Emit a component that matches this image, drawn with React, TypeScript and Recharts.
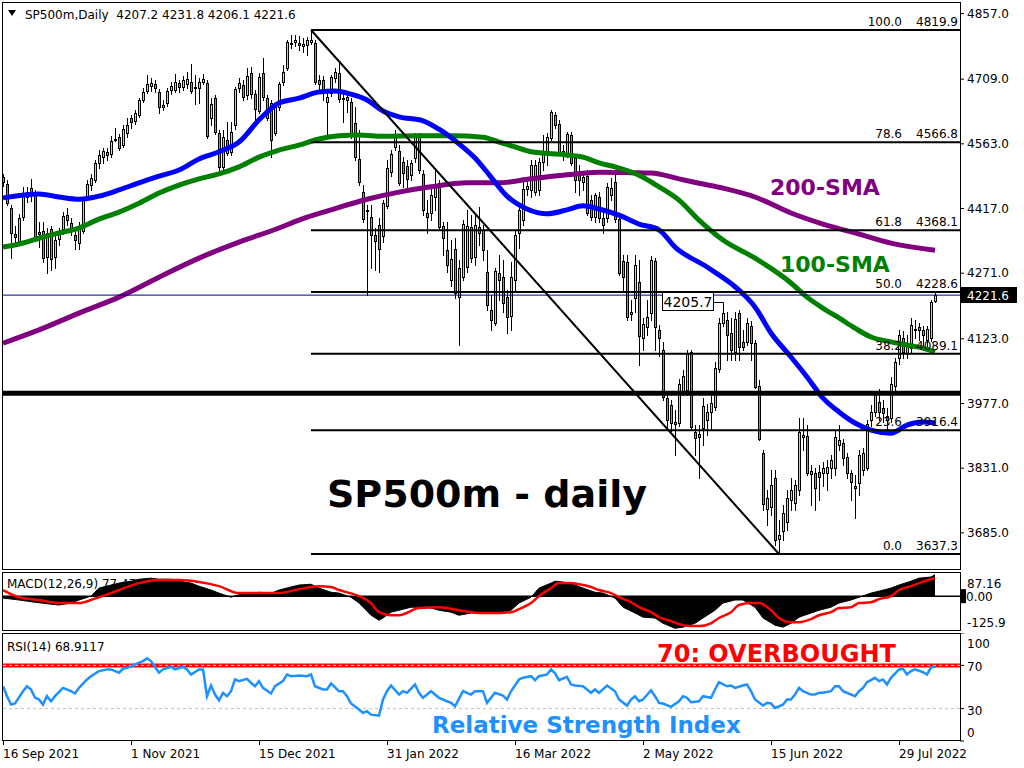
import React from 'react';
import { ComposedChart, Bar, Line, Area, XAxis, YAxis, ReferenceLine, ReferenceDot } from 'recharts';

const FONT = '"DejaVu Sans", Verdana, Tahoma, sans-serif';
const BULL = '#cddc66';
const BEAR = '#e6783f';

// ---------------- DATA ----------------
const SYMBOL = 'SP500m,Daily';
const OPEN = [
  4488,4472,4418,4359,4344,4398,4443,4463,4452,4364,
  4366,4308,4371,4308,4348,4371,4402,4384,4357,4339,
  4366,4443,4470,4481,4520,4533,4545,4540,4572,4578,
  4560,4587,4621,4615,4628,4662,4682,4694,4698,4680,
  4646,4655,4685,4685,4700,4691,4698,4703,4691,4689,
  4703,4700,4621,4666,4587,4511,4572,4545,4605,4689,
  4696,4673,4723,4675,4637,4723,4666,4655,4587,4646,
  4703,4734,4790,4793,4790,4784,4786,4793,4790,4707,
  4707,4657,4678,4712,4723,4664,4669,4657,4610,4529,
  4454,4411,4398,4357,4380,4355,4423,4499,4556,4547,
  4522,4513,4493,4531,4583,4495,4407,4407,4443,4475,
  4378,4323,4256,4326,4217,4262,4285,4375,4308,4375,
  4368,4274,4188,4159,4271,4262,4217,4174,4256,4362,
  4391,4461,4459,4454,4459,4522,4542,4576,4628,4608,
  4547,4542,4583,4531,4493,4477,4490,4436,4398,4443,
  4396,4396,4448,4477,4393,4299,4296,4183,4215,4251,
  4125,4150,4181,4299,4143,4098,3989,3973,3935,3933,
  4005,4007,4093,3913,3908,3922,3940,3958,3969,4055,
  4159,4165,4136,4093,4181,4116,4116,4152,4113,4016,
  3865,3739,3743,3809,3671,3689,3710,3759,3752,3782,
  3901,3904,3825,3820,3822,3820,3820,3831,3831,3883,
  3888,3856,3820,3791,3797,3827,3831,3940,3958,3980,
  3967,3949,3944,4016,4079,4125,4091,4102,4143,4150,
  4143,4120,4125,4207.2,
];
const HIGH = [
  4495,4481,4425,4378,4405,4466,4466,4484,4459,4387,
  4387,4373,4378,4364,4373,4409,4418,4396,4373,4387,
  4443,4481,4495,4526,4549,4554,4554,4581,4599,4585,
  4606,4621,4628,4639,4666,4689,4718,4712,4707,4687,
  4662,4689,4703,4721,4707,4716,4725,4743,4718,4712,
  4721,4707,4666,4673,4594,4594,4612,4612,4691,4712,
  4707,4734,4736,4684,4723,4757,4673,4662,4655,4703,
  4741,4797,4809,4809,4806,4802,4804,4819.9,4797,4718,
  4716,4680,4718,4734,4748,4684,4680,4666,4646,4594,
  4470,4425,4425,4373,4396,4436,4527,4549,4594,4560,
  4533,4527,4527,4587,4587,4504,4436,4470,4508,4481,
  4387,4387,4346,4350,4301,4391,4414,4402,4407,4420,
  4380,4323,4222,4283,4312,4301,4233,4296,4368,4425,
  4477,4486,4527,4527,4531,4583,4587,4639,4635,4617,
  4560,4590,4590,4538,4515,4499,4504,4448,4452,4454,
  4409,4475,4486,4493,4402,4312,4312,4211,4312,4301,
  4170,4211,4310,4305,4154,4116,4000,3985,3962,4032,
  4052,4098,4098,3928,3928,3989,3976,4003,4071,4170,
  4190,4183,4170,4183,4188,4143,4170,4163,4120,4030,
  3872,3782,3827,3827,3714,3748,3782,3809,3804,3944,
  3944,3928,3838,3831,3838,3845,3850,3860,3915,3928,
  3897,3865,3827,3816,3872,3876,3940,3973,4005,4010,
  3985,3967,4037,4080,4143,4140,4131,4170,4165,4159,
  4152,4152,4210,4231.8,
];
const LOW = [
  4468,4425,4305,4332,4339,4391,4432,4434,4346,4330,
  4296,4271,4278,4283,4335,4359,4380,4357,4326,4326,
  4362,4436,4459,4477,4508,4520,4527,4533,4569,4549,
  4556,4578,4599,4608,4624,4657,4678,4682,4680,4633,
  4639,4648,4675,4680,4680,4685,4689,4678,4653,4655,
  4698,4576,4605,4585,4504,4504,4538,4538,4596,4680,
  4662,4664,4666,4610,4633,4662,4617,4533,4583,4639,
  4696,4730,4779,4784,4775,4770,4763,4788,4698,4684,
  4662,4578,4671,4703,4657,4612,4635,4576,4527,4470,
  4387,4222,4283,4278,4274,4342,4418,4490,4549,4470,
  4466,4459,4481,4522,4497,4402,4362,4391,4414,4368,
  4312,4274,4243,4215,4109,4256,4274,4296,4290,4335,
  4301,4188,4143,4154,4211,4184,4136,4143,4233,4328,
  4380,4448,4443,4448,4448,4504,4515,4572,4599,4538,
  4527,4533,4515,4454,4448,4459,4402,4391,4387,4387,
  4362,4387,4436,4387,4267,4233,4165,4165,4184,4064,
  4098,4132,4165,4098,4085,3985,3917,3915,3861,3926,
  3996,3996,3917,3861,3809,3883,3906,3917,3962,4048,
  4152,4075,4075,4075,4075,4098,4109,4075,4012,3894,
  3737,3703,3725,3658,3637.3,3669,3692,3737,3737,3770,
  3872,3816,3748,3737,3759,3790,3782,3809,3816,3872,
  3838,3809,3759,3718,3770,3816,3827,3926,3949,3940,
  3935,3917,3935,4003,4066,4080,4080,4093,4125,4120,
  4102,4098,4118,4206.1,
];
const CLOSE = [
  4477,4429,4362,4353,4396,4448,4454,4452,4353,4359,
  4305,4362,4303,4346,4364,4400,4391,4366,4346,4375,
  4436,4472,4486,4520,4538,4547,4538,4569,4574,4554,
  4596,4606,4612,4633,4662,4680,4698,4700,4689,4646,
  4651,4682,4694,4703,4691,4707,4709,4682,4689,4703,
  4709,4581,4653,4590,4511,4578,4542,4590,4687,4700,
  4669,4716,4675,4642,4714,4669,4621,4572,4651,4698,
  4725,4793,4788,4797,4786,4788,4797,4797,4703,4698,
  4685,4669,4714,4725,4664,4666,4662,4583,4533,4477,
  4393,4414,4357,4344,4326,4429,4508,4540,4583,4475,
  4497,4484,4520,4583,4504,4414,4398,4448,4472,4375,
  4350,4290,4303,4226,4283,4382,4377,4305,4380,4362,
  4323,4199,4165,4276,4256,4204,4172,4262,4357,4414,
  4461,4468,4515,4515,4522,4540,4578,4635,4606,4545,
  4543,4585,4520,4481,4481,4488,4407,4398,4448,4396,
  4380,4466,4463,4393,4271,4262,4172,4179,4290,4129,
  4156,4172,4301,4150,4125,3992,3940,3933,3931,4021,
  4039,4089,3924,3899,3901,3971,3958,3978,4057,4159,
  4181,4131,4098,4168,4104,4104,4159,4113,4014,3897,
  3750,3764,3793,3669,3680,3730,3764,3782,3793,3913,
  3906,3820,3818,3786,3811,3831,3834,3849,3901,3894,
  3854,3820,3800,3786,3860,3865,3931,3958,3996,3958,
  3955,3940,4021,4070,4131,4093,4109,4154,4145,4143,
  4131,4145,4206,4221.6,
];

// Moving averages read at key bars: [bar, value]
const SMA50 = [
  [0,4441],[9,4450],[14,4443],[19,4438],[24,4445],[29,4459],[34,4475],[39,4490],[44,4504],[49,4529],
  [54,4545],[59,4567],[64,4617],[69,4655],[74,4666],[79,4680],[83,4682],[87,4675],[91,4662],[95,4637],
  [99,4624],[105,4615],[109,4596],[114,4563],[118,4531],[122,4488],[126,4445],[131,4416],[136,4405],
  [141,4414],[145,4423],[149,4416],[154,4402],[159,4382],[164,4369],[168,4330],[176,4285],[184,4233],
  [188,4195],[192,4136],[197,4082],[201,4037],[205,3989],[209,3958],[213,3933],[217,3917],[222,3910],
  [226,3928],[230,3935],[233,3933],
];
const SMA100 = [
  [0,4330],[4,4337],[9,4350],[14,4362],[19,4373],[24,4393],[29,4409],[34,4429],[39,4452],[44,4470],
  [49,4484],[54,4495],[59,4511],[64,4533],[69,4549],[74,4560],[79,4574],[84,4581],[89,4583],[95,4580],
  [103,4581],[112,4581],[120,4578],[124,4567],[128,4556],[132,4545],[141,4538],[145,4533],[149,4520],
  [153,4511],[159,4492],[164,4466],[169,4436],[174,4391],[180,4346],[188,4305],[197,4249],[201,4217],
  [205,4192],[209,4170],[213,4147],[217,4127],[222,4116],[226,4109],[230,4102],[233,4093],
];
const SMA200 = [
  [0,4113],[9,4143],[19,4181],[29,4217],[39,4262],[49,4305],[59,4341],[69,4373],[74,4391],[82,4414],
  [91,4438],[99,4454],[107,4466],[116,4475],[124,4475],[132,4484],[141,4493],[149,4499],[157,4498],
  [162,4497],[169,4484],[174,4474],[180,4463],[188,4443],[197,4407],[205,4382],[213,4362],[222,4339],
  [233,4323],
];

// MACD(12,26,9): main (histogram) and signal, read at key bars
const MACD_MAIN = [
  [0,-7],[4,-14],[9,-24],[12,-29],[14,-32],[17,-25],[19,-14],[22,0],[24,29],[27,40],[29,47],[32,54],
  [34,61],[37,65],[39,61],[42,61],[44,54],[47,47],[49,36],[52,22],[54,11],[57,-4],[59,5],[62,10],
  [64,14],[67,10],[69,22],[72,33],[74,40],[77,43],[79,29],[82,14],[84,11],[87,-4],[89,-25],[92,-69],
  [94,-87],[95,-79],[97,-58],[99,-51],[102,-40],[104,-40],[107,-43],[109,-51],[112,-58],[114,-69],
  [117,-61],[119,-58],[122,-61],[124,-61],[127,-51],[129,-25],[132,-4],[134,29],[137,47],[138,54],
  [140,51],[143,40],[145,29],[148,14],[150,11],[153,-7],[155,-40],[158,-61],[160,-76],[163,-79],
  [165,-98],[168,-116],[170,-112],[173,-98],[175,-79],[178,-51],[180,-25],[183,-14],[185,-14],
  [188,-40],[190,-79],[193,-105],[195,-112],[197,-98],[199,-76],[202,-61],[204,-51],[207,-40],
  [209,-25],[212,-14],[214,-4],[217,11],[219,18],[222,29],[224,40],[227,54],[229,65],[232,69],[233,77.47],
];
const MACD_SIGNAL = [
  [0,22],[4,-4],[9,-14],[14,-25],[19,-25],[22,-14],[24,-4],[27,11],[29,22],[34,47],[39,58],[44,58],
  [49,51],[54,36],[59,11],[64,11],[69,11],[74,25],[79,36],[82,33],[84,22],[89,0],[92,-25],[94,-58],
  [97,-69],[99,-69],[104,-43],[109,-40],[114,-51],[119,-61],[124,-61],[127,-58],[129,-47],[132,-25],
  [134,0],[137,29],[139,47],[142,47],[144,43],[147,33],[149,22],[152,11],[154,-4],[157,-22],[159,-40],
  [162,-58],[164,-76],[167,-90],[169,-101],[172,-108],[174,-108],[177,-98],[179,-79],[182,-58],
  [184,-32],[187,-25],[189,-25],[192,-51],[194,-79],[197,-94],[199,-94],[202,-83],[204,-69],[207,-58],
  [209,-43],[212,-40],[214,-25],[217,-22],[219,-11],[222,0],[224,22],[227,36],[229,47],[232,61],[233,65],
];

// RSI(14) read at bars
const RSI = [
  [0,50.7],[1,41.5],[2,33.7],[3,34.7],[5,46],[6,50.7],[7,47.7],[8,40.2],[9,38.4],[10,33.7],[11,41.5],
  [12,36.8],[13,41.5],[15,49.2],[17,46.1],[18,44],[19,49.2],[21,57],[22,60],[24,64.7],[26,66.3],
  [27,66.3],[29,63.2],[30,66.9],[32,68.8],[33,71],[35,74],[36,76.5],[37,74],[39,63.2],[40,66.3],
  [42,68.8],[43,66.3],[45,68.8],[46,66.3],[47,61.6],[49,66.3],[50,66.3],[51,41.5],[52,51.4],[53,43],
  [54,37.7],[55,44.6],[56,41.5],[57,46.1],[58,57],[59,55.4],[61,57.6],[62,53.9],[63,50.7],[64,55.4],
  [65,49.2],[67,44],[68,50.7],[70,55.4],[71,61.6],[72,60],[74,60.7],[76,60],[77,61.6],[78,50.7],
  [80,47.7],[81,47.7],[82,53.3],[84,46.1],[85,46.1],[86,41.5],[87,34.7],[89,29.1],[90,26],[91,27.5],
  [92,24.4],[94,23.5],[95,38.4],[96,46.1],[97,51.4],[99,43],[100,46.1],[101,44.6],[103,52.3],
  [104,44.6],[105,40],[107,46.1],[109,40],[111,36.8],[112,35.3],[113,32.2],[115,46.1],[117,43],
  [118,46.1],[120,46.1],[121,35.3],[123,44.6],[125,42],[126,38.4],[127,46],[129,57],[130,58.5],
  [132,60],[133,56.3],[134,60],[136,61.6],[137,66.3],[138,62.6],[139,56.3],[141,59.5],[142,52.3],
  [143,51.4],[145,50.7],[147,44.6],[148,47.7],[149,44.6],[151,51.4],[153,46.1],[154,38.4],[156,32.8],
  [157,38.4],[158,41.5],[159,36.8],[160,38.4],[162,47],[163,41.5],[164,35.3],[165,34.7],[167,31.6],
  [169,36.8],[170,41.5],[171,40],[172,35.9],[174,36.8],[175,41.5],[177,40],[178,47.7],[179,54.5],
  [181,50.7],[182,51.4],[183,49.2],[185,51.4],[186,52.3],[187,46.1],[188,38.4],[190,32.8],[191,35.3],
  [192,34.7],[193,30.6],[195,33.7],[196,38.4],[197,38.4],[198,43],[199,49.2],[200,46.1],[202,43],
  [203,43],[204,44.6],[205,44.6],[207,46.1],[208,50.7],[209,50.7],[210,46.1],[213,41.5],[214,46.1],
  [215,49.2],[216,54.5],[218,58.5],[219,55.4],[220,57],[221,52.3],[222,58.5],[224,66.3],[225,66.9],
  [226,61.6],[227,64.7],[228,66.3],[230,63.7],[231,61.6],[232,67.9],[233,68.9117],
];

const DATE_TICKS = [0, 32, 64, 96, 128, 160, 192, 224];
const DATE_LABELS = ['16 Sep 2021', '1 Nov 2021', '15 Dec 2021', '31 Jan 2022', '16 Mar 2022', '2 May 2022', '15 Jun 2022', '29 Jul 2022'];
const PRICE_TICKS = [4857, 4709, 4563, 4417, 4271, 4123, 3977, 3831, 3685];
const FIB_LEVELS = ['100.0', '78.6', '61.8', '50.0', '38.2', '23.6', '0.0'];
const FIB_PRICES = [4819.9, 4566.8, 4368.1, 4228.6, 4089.1, 3916.4, 3637.3];
const FIB_HIGH_BAR = 77;
const FIB_LOW_BAR = 194;
const SUPPORT_LEVEL = 4000;
const CALLOUT_BAR = 180;
const CALLOUT_PRICE = 4205.7;
const MACD_TICKS = [87.16, 0, -125.9];
const MACD_TICK_LABELS = ['87.16', '0.00', '-125.9'];
const MACD_LAST = '77.47';
const RSI_TICKS = [100, 70, 30, 0];
const RSI_LAST = '68.9117';
const RSI_OVERBOUGHT = 70;
const RSI_OVERSOLD = 30;

// ---------------- SCALES / TABLES ----------------
const X_DOMAIN: [number, number] = [-0.25, 239.25];
const PRICE_DOMAIN: [number, number] = [3603.5, 4883.1];
const MACD_DOMAIN: [number, number] = [-125.9, 87.16];

const toMap = (pairs: number[][]) => new Map<number, number>(pairs.map((p) => [p[0], p[1]] as [number, number]));
const m50 = toMap(SMA50), m100 = toMap(SMA100), m200 = toMap(SMA200);
const mMain = toMap(MACD_MAIN), mSig = toMap(MACD_SIGNAL), mRsi = toMap(RSI);

const mainData = CLOSE.map((c, i) => ({
  i, o: OPEN[i], h: HIGH[i], l: LOW[i], c,
  range: [LOW[i], HIGH[i]],
  sma50: m50.get(i), sma100: m100.get(i), sma200: m200.get(i),
}));
const macdData = CLOSE.map((_, i) => ({ i, hist: mMain.get(i), sig: mSig.get(i) }));
const rsiData = CLOSE.map((_, i) => ({ i, rsi: mRsi.get(i) }));
const LAST = CLOSE.length - 1;

// ---------------- SHAPES ----------------
function Candle(props: any) {
  const { x, y, width, height, payload } = props;
  if (!payload || x == null || y == null) return null;
  const top0 = Math.min(y, y + height);
  const hh = Math.abs(height);
  const cx = Math.round(x + width / 2);
  const { o, h, l, c } = payload;
  const span = h - l;
  const py = (v: number) => (span > 0 ? top0 + ((h - v) / span) * hh : top0);
  const bt = Math.round(py(Math.max(o, c)));
  const bb = Math.round(py(Math.min(o, c)));
  const bull = c >= o;
  return (
    <g shapeRendering="crispEdges">
      <line x1={cx + 0.5} x2={cx + 0.5} y1={Math.round(top0)} y2={Math.round(top0 + hh) + 1} stroke="#000" strokeWidth={1} />
      <rect x={cx - 0.5} y={bt + 0.5} width={2} height={Math.max(bb - bt, 1)} fill={bull ? BULL : BEAR} stroke="#000" strokeWidth={1} />
    </g>
  );
}

function FibLabel(props: any) {
  const vb = props.viewBox;
  if (!vb) return null;
  const right = vb.x + vb.width;
  const y = vb.y - 4;
  return (
    <g fontFamily={FONT} fontSize={12} fill="#000">
      <text x={right - 58} y={y} textAnchor="end">{props.lvl}</text>
      <text x={right - 2} y={y} textAnchor="end">{props.price.toFixed(1)}</text>
    </g>
  );
}

function PriceTag(props: any) {
  const vb = props.viewBox;
  if (!vb) return null;
  const x = vb.x + vb.width + 1;
  const y = Math.round(vb.y);
  return (
    <g>
      <rect x={x} y={y - 8} width={56} height={16} fill="#000" />
      <text x={x + 6} y={y + 4.5} fill="#fff" fontFamily={FONT} fontSize={12}>{props.value.toFixed(1)}</text>
    </g>
  );
}

function Callout(props: any) {
  const { cx, cy } = props;
  if (cx == null || cy == null) return null;
  const x = Math.round(cx), y = Math.round(cy);
  return (
    <g>
      <rect x={x - 60.5} y={y - 9.5} width={51} height={18} fill="#fff" stroke="#000" strokeWidth={1} />
      <text x={x - 35} y={y + 5} textAnchor="middle" fontFamily={FONT} fontSize={14} fill="#000">{CALLOUT_PRICE.toFixed(1)}</text>
      <polyline points={`${x - 9.5},${y + 0.5} ${x + 0.5},${y + 0.5} ${x + 0.5},${y + 9}`} fill="none" stroke="#000" strokeWidth={1} />
    </g>
  );
}

function makeSideTick(offsets: Record<string, number>, labels: Record<string, string>) {
  return (p: any) => {
    const v = p.payload.value;
    const key = String(v);
    const dy = offsets[key] ?? 0;
    const yy = p.y + dy;
    const txt = labels[key] ?? String(v);
    if (v === 0 && labels[key] === '0.00') {
      return (
        <g fontFamily={FONT} fontSize={12}>
          <rect x={p.x - 6} y={yy - 7} width={5} height={14} fill="#000" />
          <text x={p.x - 1} y={yy + 4.5} fill="#000">{txt}</text>
        </g>
      );
    }
    return (
      <text x={p.x} y={yy + 4.5} fill="#000" fontFamily={FONT} fontSize={12} textAnchor="start">{txt}</text>
    );
  };
}

const macdTick = makeSideTick(
  { '87.16': 11, '0': 0, '-125.9': -9 },
  Object.fromEntries(MACD_TICKS.map((t, k) => [String(t), MACD_TICK_LABELS[k]]))
);
const rsiTick = makeSideTick({ '100': 10, '70': 1.5, '30': 1.5, '0': -9 }, {});

function DateTick(p: any) {
  const idx = DATE_TICKS.indexOf(p.payload.value);
  const x = Math.round(p.x);
  return (
    <g>
      <line x1={x + 0.5} x2={x + 0.5} y1={p.y} y2={p.y + 4} stroke="#000" strokeWidth={1} />
      <text x={x} y={p.y + 17} fontFamily={FONT} fontSize={12} fill="#000">{DATE_LABELS[idx]}</text>
    </g>
  );
}

// ---------------- APP ----------------
export default function App() {
  const header = `${SYMBOL}  ${OPEN[LAST]} ${HIGH[LAST]} ${LOW[LAST]} ${CLOSE[LAST]}`;
  return (
    <div style={{ position: 'absolute', left: 0, top: 0, width: 1024, height: 768, background: '#fff', overflow: 'hidden' }}>
      {/* underlay: MACD caption sits behind the histogram */}
      <svg width={1024} height={768} style={{ position: 'absolute', left: 0, top: 0 }}>
        <text x={7} y={588} fontFamily={FONT} fontSize={12} fill="#000">{`MACD(12,26,9) ${MACD_LAST}`}</text>
      </svg>

      {/* main price pane */}
      <div style={{ position: 'absolute', left: 0, top: 0 }}>
        <ComposedChart width={1024} height={571} data={mainData} margin={{ top: 2, right: 0, bottom: 2, left: 2 }}>
          <XAxis dataKey="i" type="number" domain={X_DOMAIN} allowDataOverflow hide />
          <YAxis
            orientation="right" width={64} type="number" domain={PRICE_DOMAIN} allowDataOverflow
            ticks={PRICE_TICKS} interval={0} tickFormatter={(v: number) => v.toFixed(1)}
            axisLine={false} tickLine={{ stroke: '#000' }} tickSize={4} tickMargin={3}
            tick={{ fontSize: 12, fontFamily: FONT, fill: '#000' }}
          />
          <Bar dataKey="range" barSize={3} shape={Candle} isAnimationActive={false} />
          <Line dataKey="sma200" type="monotone" stroke="#800080" strokeWidth={5} dot={false} connectNulls isAnimationActive={false} />
          <Line dataKey="sma100" type="monotone" stroke="#008000" strokeWidth={5} dot={false} connectNulls isAnimationActive={false} />
          <Line dataKey="sma50" type="monotone" stroke="#0000ff" strokeWidth={5} dot={false} connectNulls isAnimationActive={false} />
          <ReferenceLine y={CLOSE[LAST]} stroke="#000080" strokeWidth={1} label={<PriceTag value={CLOSE[LAST]} />} />
          <ReferenceLine y={SUPPORT_LEVEL} stroke="#000" strokeWidth={5} />
          {FIB_PRICES.map((p, k) => (
            <ReferenceLine
              key={FIB_LEVELS[k]}
              segment={[{ x: FIB_HIGH_BAR, y: p }, { x: X_DOMAIN[1], y: p }]}
              stroke="#000" strokeWidth={2}
              label={<FibLabel lvl={FIB_LEVELS[k]} price={p} />}
            />
          ))}
          <ReferenceLine
            segment={[{ x: FIB_HIGH_BAR, y: FIB_PRICES[0] }, { x: FIB_LOW_BAR, y: FIB_PRICES[FIB_PRICES.length - 1] }]}
            stroke="#000" strokeWidth={2}
          />
          <ReferenceDot x={CALLOUT_BAR} y={CALLOUT_PRICE} r={0} shape={(p: any) => <Callout {...p} />} />
        </ComposedChart>
      </div>

      {/* MACD pane */}
      <div style={{ position: 'absolute', left: 0, top: 572 }}>
        <ComposedChart width={1024} height={59} data={macdData} margin={{ top: 0, right: 0, bottom: 0, left: 2 }}>
          <XAxis dataKey="i" type="number" domain={X_DOMAIN} allowDataOverflow hide />
          <YAxis
            orientation="right" width={64} type="number" domain={MACD_DOMAIN} allowDataOverflow
            ticks={MACD_TICKS} interval={0} axisLine={false} tickLine={false} tickSize={4} tickMargin={3}
            tick={macdTick}
          />
          <ReferenceLine y={0} stroke="#000" strokeWidth={1.5} />
          <Area dataKey="hist" type="linear" fill="#000" fillOpacity={1} stroke="#000" strokeWidth={1} baseValue={0} connectNulls dot={false} isAnimationActive={false} />
          <Line dataKey="sig" type="monotone" stroke="#ff0000" strokeWidth={2.5} dot={false} connectNulls isAnimationActive={false} />
        </ComposedChart>
      </div>

      {/* RSI pane */}
      <div style={{ position: 'absolute', left: 0, top: 633 }}>
        <ComposedChart width={1024} height={135} data={rsiData} margin={{ top: 0, right: 0, bottom: 0, left: 2 }}>
          <XAxis
            dataKey="i" type="number" domain={X_DOMAIN} allowDataOverflow height={27}
            ticks={DATE_TICKS} interval={0} axisLine={false} tickLine={false} tickSize={0} tickMargin={0}
            tick={DateTick}
          />
          <YAxis
            orientation="right" width={64} type="number" domain={[0, 100]} allowDataOverflow
            ticks={RSI_TICKS} interval={0} axisLine={false} tickLine={{ stroke: '#000' }} tickSize={4} tickMargin={3}
            tick={rsiTick}
          />
          <ReferenceLine y={RSI_OVERBOUGHT} stroke="#ff0000" strokeWidth={4} />
          <ReferenceLine y={RSI_OVERBOUGHT} stroke="#d8d8d8" strokeWidth={1} strokeDasharray="3 3" />
          <ReferenceLine y={RSI_OVERSOLD} stroke="#c0c0c0" strokeWidth={1} strokeDasharray="3 3" />
          <Line dataKey="rsi" type="linear" stroke="#1e90ff" strokeWidth={2.5} dot={false} connectNulls isAnimationActive={false} />
        </ComposedChart>
      </div>

      {/* overlay: frames, captions, annotations */}
      <svg width={1024} height={768} style={{ position: 'absolute', left: 0, top: 0, pointerEvents: 'none' }}>
        <g fill="none" stroke="#000" strokeWidth={1} shapeRendering="crispEdges">
          <rect x={2.5} y={2.5} width={958} height={566.5} />
          <rect x={2.5} y={572.5} width={958} height={58} />
          <rect x={2.5} y={633.5} width={958} height={107} />
        </g>
        <polygon points="8,10 16,10 12,16" fill="#000" />
        <text x={25} y={19} fontFamily={FONT} fontSize={12} fill="#000" style={{ whiteSpace: 'pre' }}>{header}</text>
        <text x={7} y={651} fontFamily={FONT} fontSize={12} fill="#000">{`RSI(14) ${RSI_LAST}`}</text>

        <text x={327} y={507} fontFamily={FONT} fontWeight="bold" fontSize={38} fill="#000">SP500m - daily</text>
        <text x={770} y={195} fontFamily={FONT} fontWeight="bold" fontSize={22} fill="#800080">200-SMA</text>
        <text x={780} y={272} fontFamily={FONT} fontWeight="bold" fontSize={22} fill="#008000">100-SMA</text>
        <text x={657} y={662} fontFamily={FONT} fontWeight="bold" fontSize={24} fill="#ff0000">70: OVERBOUGHT</text>
        <text x={432} y={733} fontFamily={FONT} fontWeight="bold" fontSize={23} fill="#1e90ff">Relative Strength Index</text>
      </svg>
    </div>
  );
}
